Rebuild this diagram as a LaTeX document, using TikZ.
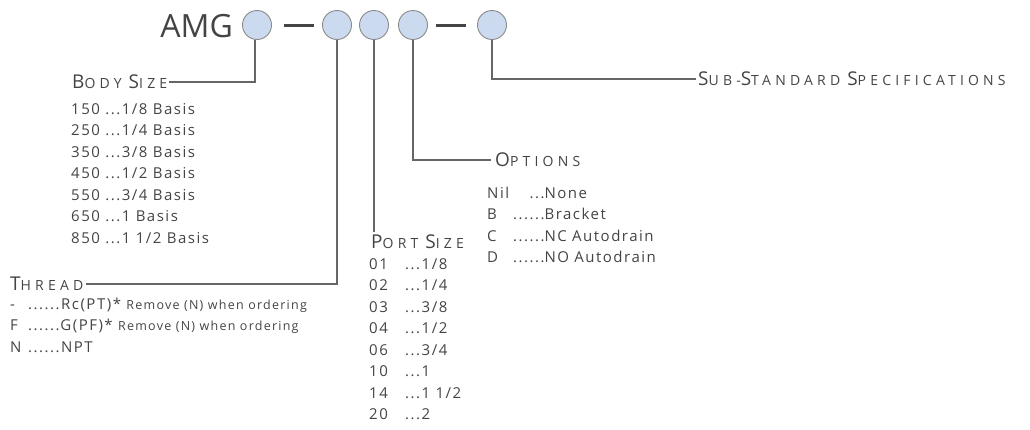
\documentclass[tikz,border=0pt]{standalone}
\usepackage{fontspec}
\setmainfont{Open Sans}
\newfontfamily\lsfont[LetterSpace=30]{Open Sans}
\newfontfamily\lsfontb[LetterSpace=10]{Open Sans}
\usepackage{array}
\definecolor{txt}{HTML}{444444}
\definecolor{lin}{HTML}{666666}
\definecolor{cfill}{HTML}{CCDAF0}
\definecolor{cdraw}{HTML}{8A8A8A}
\newcommand{\hdw}[2]{{\fontsize{19}{19}\selectfont #1}{\fontsize{14}{14}\selectfont #2}}
\newcommand{\wsp}{\hspace{7pt}}
\begin{document}
\begin{tikzpicture}[x=1pt,y=-1pt,
  code/.style={circle,fill=cfill,draw=cdraw,line width=0.9pt,minimum size=29pt,inner sep=0pt},
  conn/.style={draw=lin,line width=1.2pt},
  head/.style={anchor=base west,inner sep=0pt,text=txt,font=\lsfont},
  lst/.style={anchor=north west,inner sep=0pt,text=txt,font=\lsfontb\fontsize{15}{21.5}\selectfont,align=left}]
\useasboundingbox (0,0) rectangle (1030,429);
\node[anchor=base east,inner sep=0pt,text=txt,font=\fontsize{32}{32}\selectfont] (amg) at (233,37) {AMG};
\node[code] (c1) at (257,25) {};
\node[code] (c2) at (337,25) {};
\node[code] (c3) at (374,25) {};
\node[code] (c4) at (413,25) {};
\node[code] (c5) at (492,25) {};
\coordinate (d1a) at (284,25.5); \coordinate (d1b) at (314,25.5);
\coordinate (d2a) at (436,25.5); \coordinate (d2b) at (466,25.5);
\draw[txt,line width=2.4pt] (d1a) -- (d1b);
\draw[txt,line width=2.4pt] (d2a) -- (d2b);
% headings
\node[head] (hbody) at (72,88) {\hdw{B}{ODY}\wsp\hdw{S}{IZE}};
\node[head] (hthread) at (10,290) {\hdw{T}{HREAD}};
\node[head] (hport) at (371,248) {\hdw{P}{ORT}\wsp\hdw{S}{IZE}};
\node[head] (hopt) at (495,166) {\hdw{O}{PTIONS}};
\node[head] (hsub) at (698,85) {\hdw{S}{UB-}\hdw{S}{TANDARD}\wsp\hdw{S}{PECIFICATIONS}};
% connectors
\draw[conn] (c1.south -| 255,0) |- ([xshift=2pt]hbody.east |- 0,82);
\draw[conn] (c2.south) |- ([xshift=2pt]hthread.east |- 0,284);
\draw[conn] (c3.south) -- (374,232);
\draw[conn] (c4.south) |- ([xshift=-4pt]hopt.west |- 0,160);
\draw[conn] (c5.south) |- ([xshift=-2pt]hsub.west |- 0,79);
% lists
\node[lst] (lbody) at (71,103) {150 ...1/8 Basis\\250 ...1/4 Basis\\350 ...3/8 Basis\\450 ...1/2 Basis\\550 ...3/4 Basis\\650 ...1 Basis\\850 ...1 1/2 Basis};
\node[lst] (lthread) at (10,294) {%
\begin{tabular}{@{}p{18pt}@{}l@{}}
- & ......Rc(PT)* {\fontsize{12.5}{12.5}\selectfont Remove (N) when ordering}\\
F & ......G(PF)* {\fontsize{12.5}{12.5}\selectfont Remove (N) when ordering}\\
N & ......NPT
\end{tabular}};
\node[lst] (lport) at (369,254) {%
\begin{tabular}{@{}p{36pt}@{}l@{}}
01 & ...1/8\\ 02 & ...1/4\\ 03 & ...3/8\\ 04 & ...1/2\\ 06 & ...3/4\\ 10 & ...1\\ 14 & ...1 1/2\\ 20 & ...2
\end{tabular}};
\node[lst] (lopt) at (487,183) {%
\begin{tabular}{@{}l@{\hspace{4pt}}r@{}l@{}}
Nil & ... & None\\ B & ...... & Bracket\\ C & ...... & NC Autodrain\\ D & ...... & NO Autodrain
\end{tabular}};
\end{tikzpicture}
\end{document}
